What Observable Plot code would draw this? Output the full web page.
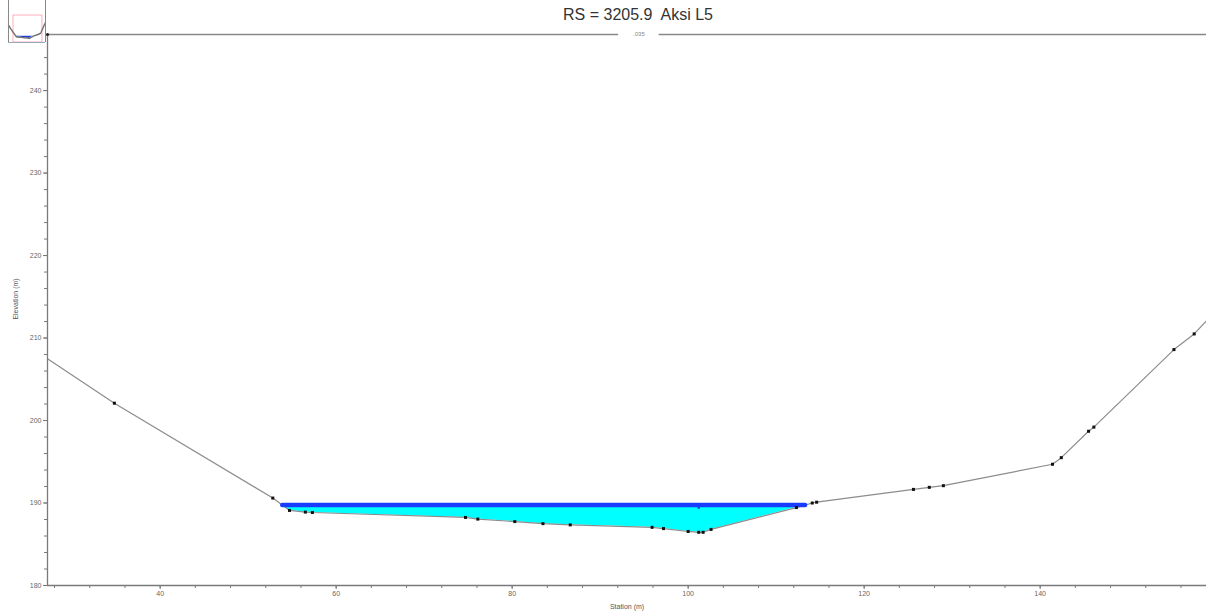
<!DOCTYPE html>
<html><head><meta charset="utf-8">
<script src="https://cdn.jsdelivr.net/npm/d3@7"></script>
<script src="https://cdn.jsdelivr.net/npm/@observablehq/plot@0.6"></script>
<style>
html,body{margin:0;padding:0;background:#fff;}
#wrap{position:relative;width:1206px;height:614px;overflow:hidden;}
#inset{position:absolute;left:0;top:0;}
</style></head>
<body><div id="wrap"><div id="chart"></div><div id="inset"></div></div>
<script>
const title = "RS = 3205.9  Aksi L5";
const xTitle = "Station (m)";
const yTitle = "Elevation (m)";
const stations   = [27.2, 34.8, 52.8, 54.7, 56.5, 57.3, 74.7, 76.1, 80.3, 83.5, 86.6, 95.9, 97.2, 100.0, 101.2, 101.7, 102.6, 112.3, 114.1, 114.6, 125.6, 127.4, 129.0, 141.4, 142.4, 145.5, 146.1, 155.2, 157.5, 158.9];
const elevations = [207.5, 202.1, 190.6, 189.1, 188.9, 188.85, 188.25, 188.05, 187.75, 187.5, 187.35, 187.05, 186.9, 186.55, 186.45, 186.45, 186.8, 189.45, 190.0, 190.1, 191.65, 191.9, 192.1, 194.7, 195.5, 198.7, 199.2, 208.6, 210.5, 212.1];
const waterSurface = 189.75;
const nLabels = [{station: 94.4, n: ".035"}];
const xDomain = [27.2, 158.9];
const yDomain = [180, 246.8];
const xMajor = [40, 60, 80, 100, 120, 140];
const xMinor = d3.range(28, 158, 4);
const yMajor = [180, 190, 200, 210, 220, 230, 240];
const yMinor = d3.range(180, 246, 2);
const insetX = [-1.3, 166];
const insetWindow = [{x1: 45, x2: 148, y1: 180, y2: 222.9}];

const ground = stations.map((s, i) => ({station: s, elev: elevations[i]}));
const marked = ground.filter(d => d.station > xDomain[0] && d.station < xDomain[1]);

// wetted section derived from the ground profile and water surface
function interp(a, b, y) { return a.station + (b.station - a.station) * (y - a.elev) / (b.elev - a.elev); }
const li = ground.findIndex((d, i) => i < ground.length - 1 && d.elev > waterSurface && ground[i + 1].elev <= waterSurface);
const ri = ground.findIndex((d, i) => i > li && i < ground.length - 1 && d.elev <= waterSurface && ground[i + 1].elev > waterSurface);
const xl = interp(ground[li], ground[li + 1], waterSurface);
const xr = interp(ground[ri], ground[ri + 1], waterSurface);
const wet = [{station: xl, elev: waterSurface}, ...ground.slice(li + 1, ri + 1), {station: xr, elev: waterSurface}];
const wsLine = [{station: xl, elev: waterSurface}, {station: xr, elev: waterSurface}];
const lowest = ground.reduce((a, b) => (b.elev < a.elev ? b : a));

const gap = 2.3;
const nLine = [{x1: xDomain[0], x2: nLabels[0].station - gap}, {x1: nLabels[0].station + gap, x2: xDomain[1]}];
const font = "Arial, 'Liberation Sans', sans-serif";
const axisColor = "#7a7a7a";

const chart = Plot.plot({
  width: 1206, height: 614,
  marginLeft: 47, marginRight: 0, marginTop: 34, marginBottom: 29,
  style: {fontFamily: font, background: "white", overflow: "visible"},
  x: {domain: xDomain},
  y: {domain: yDomain},
  marks: [
    Plot.areaY(wet, {x: "station", y1: "elev", y2: waterSurface, fill: "#00ffff"}),
    Plot.line(ground, {x: "station", y: "elev", stroke: "#8c8c8c", strokeWidth: 1.2, clip: true}),
    Plot.line(wsLine, {x: "station", y: "elev", stroke: "#1a3cff", strokeWidth: 4.5}),
    Plot.ruleX([lowest], {x: "station", y1: waterSurface - 0.5, y2: waterSurface + 0.15, stroke: "#1a3cff", strokeWidth: 2.5}),
    Plot.dot(marked, {x: "station", y: "elev", symbol: "square", r: 1.7, fill: "#111"}),
    Plot.axisX({ticks: xMinor, tickSize: 3, tickFormat: () => "", stroke: axisColor, label: null}),
    Plot.axisX({ticks: xMajor, tickSize: 4, tickPadding: 2, fontSize: 7, fill: "#666", stroke: axisColor, label: null}),
    Plot.axisY({ticks: yMinor, tickSize: 3, tickFormat: () => "", stroke: axisColor, label: null}),
    Plot.axisY({ticks: yMajor, tickSize: 4, tickPadding: 2, fontSize: 7, fill: "#666", stroke: axisColor, label: null}),
    Plot.ruleY([yDomain[0]], {stroke: axisColor, strokeWidth: 1.3}),
    Plot.ruleX([xDomain[0]], {stroke: axisColor, strokeWidth: 1.3}),
    Plot.ruleY(nLine, {x1: "x1", x2: "x2", y: yDomain[1], stroke: "#888", strokeWidth: 1.3}),
    Plot.text(nLabels, {x: "station", y: yDomain[1], text: "n", fontSize: 6, fill: "#888"}),
    Plot.dot([xDomain[0]], {x: d => d, y: yDomain[1], r: 1.6, fill: "#222"}),
    Plot.text([title], {frameAnchor: "top", dx: 11, dy: -20, lineAnchor: "middle", fontSize: 16, fill: "#333"}),
    Plot.text([xTitle], {frameAnchor: "bottom", dy: 21, lineAnchor: "middle", fontSize: 7, fill: "#555"}),
    Plot.text([yTitle], {frameAnchor: "left", dx: -32, dy: -11, rotate: -90, textAnchor: "middle", lineAnchor: "middle", fontSize: 7, fill: "#555"})
  ]
});
document.getElementById("chart").append(chart);

const inset = Plot.plot({
  width: 47, height: 43, marginLeft: 0, marginRight: 0, marginTop: 0, marginBottom: 1,
  style: {background: "transparent", overflow: "visible"},
  x: {domain: insetX, axis: null},
  y: {domain: yDomain, axis: null},
  marks: [
    Plot.rect(insetWindow, {x1: "x1", x2: "x2", y1: "y1", y2: "y2", stroke: "#ff9aaa", fill: "none", strokeWidth: 0.8}),
    Plot.areaY(wet, {x: "station", y1: "elev", y2: waterSurface, fill: "#2040e0"}),
    Plot.line(ground, {x: "station", y: "elev", stroke: "#6f6f6f", strokeWidth: 1.4}),
    Plot.ruleX(xDomain, {stroke: "#888", strokeWidth: 1}),
    Plot.ruleY([yDomain[0]], {x1: xDomain[0], x2: xDomain[1], stroke: "#9ab", strokeWidth: 1})
  ]
});
document.getElementById("inset").append(inset);
</script>
</body></html>
